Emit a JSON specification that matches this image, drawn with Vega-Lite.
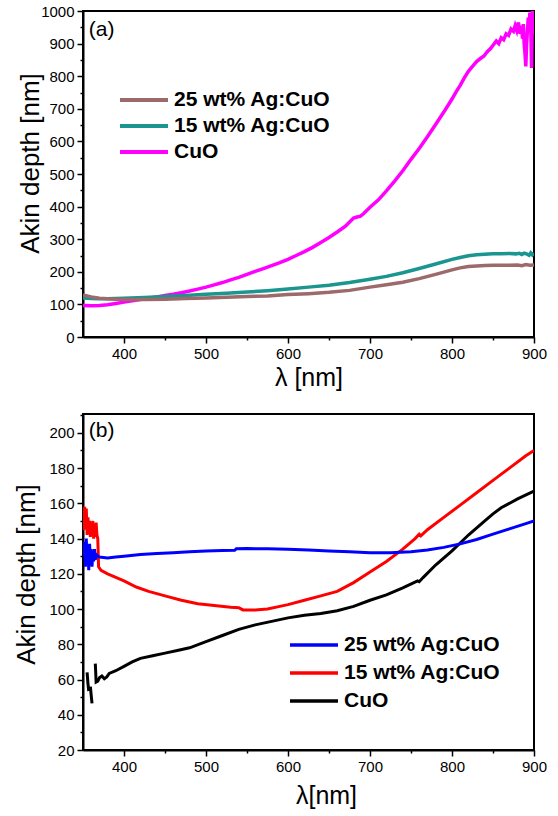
{
  "$schema": "https://vega.github.io/schema/vega-lite/v6.json",
  "background": "white",
  "padding": {"left": 12, "top": 3, "right": 10, "bottom": 5},
  "config": {
    "font": "Liberation Sans",
    "view": {"stroke": "black", "strokeWidth": 2},
    "axis": {
      "grid": false,
      "domainColor": "black",
      "domainWidth": 2,
      "tickColor": "black",
      "tickWidth": 1.5,
      "labelColor": "black",
      "labelFontSize": 15,
      "labelFont": "Liberation Sans",
      "labelFlush": false,
      "labelOverlap": false,
      "labelPadding": 3,
      "titleFont": "Liberation Sans",
      "titleFontWeight": "normal",
      "titleFontSize": 25,
      "titleColor": "black"
    },
    "legend": {
      "title": null,
      "orient": "none",
      "symbolType": "stroke",
      "symbolSize": 2304,
      "clipHeight": 20,
      "labelFont": "Liberation Sans",
      "labelFontSize": 21,
      "labelFontWeight": "bold",
      "labelColor": "black",
      "labelOffset": 4,
      "labelLimit": 0,
      "padding": 0
    }
  },
  "datasets": {
    "a": [
      {"s": "\u00a0CuO", "x": 350, "y": 97}, {"s": "\u00a0CuO", "x": 360, "y": 96}, {"s": "\u00a0CuO", "x": 370, "y": 97}, {"s": "\u00a0CuO", "x": 380, "y": 99},
      {"s": "\u00a0CuO", "x": 390, "y": 103}, {"s": "\u00a0CuO", "x": 400, "y": 107}, {"s": "\u00a0CuO", "x": 410, "y": 111}, {"s": "\u00a0CuO", "x": 420, "y": 115},
      {"s": "\u00a0CuO", "x": 430, "y": 119}, {"s": "\u00a0CuO", "x": 440, "y": 123}, {"s": "\u00a0CuO", "x": 450, "y": 127}, {"s": "\u00a0CuO", "x": 460, "y": 131},
      {"s": "\u00a0CuO", "x": 470, "y": 136}, {"s": "\u00a0CuO", "x": 480, "y": 141}, {"s": "\u00a0CuO", "x": 490, "y": 147}, {"s": "\u00a0CuO", "x": 500, "y": 153},
      {"s": "\u00a0CuO", "x": 510, "y": 160}, {"s": "\u00a0CuO", "x": 520, "y": 167}, {"s": "\u00a0CuO", "x": 530, "y": 175}, {"s": "\u00a0CuO", "x": 540, "y": 183},
      {"s": "\u00a0CuO", "x": 550, "y": 192}, {"s": "\u00a0CuO", "x": 560, "y": 201}, {"s": "\u00a0CuO", "x": 570, "y": 210}, {"s": "\u00a0CuO", "x": 580, "y": 219},
      {"s": "\u00a0CuO", "x": 590, "y": 228}, {"s": "\u00a0CuO", "x": 600, "y": 238}, {"s": "\u00a0CuO", "x": 610, "y": 250}, {"s": "\u00a0CuO", "x": 620, "y": 262},
      {"s": "\u00a0CuO", "x": 630, "y": 275}, {"s": "\u00a0CuO", "x": 640, "y": 290}, {"s": "\u00a0CuO", "x": 650, "y": 305}, {"s": "\u00a0CuO", "x": 660, "y": 322},
      {"s": "\u00a0CuO", "x": 670, "y": 340}, {"s": "\u00a0CuO", "x": 676, "y": 355}, {"s": "\u00a0CuO", "x": 680, "y": 365}, {"s": "\u00a0CuO", "x": 684, "y": 368},
      {"s": "\u00a0CuO", "x": 688, "y": 370}, {"s": "\u00a0CuO", "x": 692, "y": 378}, {"s": "\u00a0CuO", "x": 700, "y": 398}, {"s": "\u00a0CuO", "x": 710, "y": 420},
      {"s": "\u00a0CuO", "x": 720, "y": 448}, {"s": "\u00a0CuO", "x": 730, "y": 478}, {"s": "\u00a0CuO", "x": 740, "y": 510}, {"s": "\u00a0CuO", "x": 750, "y": 545},
      {"s": "\u00a0CuO", "x": 760, "y": 578}, {"s": "\u00a0CuO", "x": 770, "y": 614}, {"s": "\u00a0CuO", "x": 780, "y": 652}, {"s": "\u00a0CuO", "x": 790, "y": 690},
      {"s": "\u00a0CuO", "x": 800, "y": 730}, {"s": "\u00a0CuO", "x": 805, "y": 752}, {"s": "\u00a0CuO", "x": 810, "y": 772}, {"s": "\u00a0CuO", "x": 815, "y": 795},
      {"s": "\u00a0CuO", "x": 820, "y": 815}, {"s": "\u00a0CuO", "x": 825, "y": 830}, {"s": "\u00a0CuO", "x": 830, "y": 845}, {"s": "\u00a0CuO", "x": 835, "y": 855},
      {"s": "\u00a0CuO", "x": 839, "y": 862}, {"s": "\u00a0CuO", "x": 843, "y": 875}, {"s": "\u00a0CuO", "x": 847, "y": 885}, {"s": "\u00a0CuO", "x": 851, "y": 898},
      {"s": "\u00a0CuO", "x": 854, "y": 908}, {"s": "\u00a0CuO", "x": 857, "y": 900}, {"s": "\u00a0CuO", "x": 860, "y": 918}, {"s": "\u00a0CuO", "x": 863, "y": 912},
      {"s": "\u00a0CuO", "x": 866, "y": 930}, {"s": "\u00a0CuO", "x": 869, "y": 925}, {"s": "\u00a0CuO", "x": 872, "y": 945}, {"s": "\u00a0CuO", "x": 875, "y": 938},
      {"s": "\u00a0CuO", "x": 877, "y": 955}, {"s": "\u00a0CuO", "x": 879, "y": 940}, {"s": "\u00a0CuO", "x": 881, "y": 965}, {"s": "\u00a0CuO", "x": 883, "y": 930},
      {"s": "\u00a0CuO", "x": 885, "y": 955}, {"s": "\u00a0CuO", "x": 886, "y": 915}, {"s": "\u00a0CuO", "x": 887, "y": 960}, {"s": "\u00a0CuO", "x": 888, "y": 900},
      {"s": "\u00a0CuO", "x": 889, "y": 870}, {"s": "\u00a0CuO", "x": 890, "y": 830}, {"s": "\u00a0CuO", "x": 891, "y": 900}, {"s": "\u00a0CuO", "x": 892, "y": 940},
      {"s": "\u00a0CuO", "x": 893, "y": 980}, {"s": "\u00a0CuO", "x": 894, "y": 955}, {"s": "\u00a0CuO", "x": 895, "y": 995}, {"s": "\u00a0CuO", "x": 896, "y": 960},
      {"s": "\u00a0CuO", "x": 897, "y": 825}, {"s": "\u00a0CuO", "x": 898, "y": 1000}, {"s": "\u00a0CuO", "x": 899, "y": 930}, {"s": "\u00a0CuO", "x": 900, "y": 990},

      {"s": "15 wt% Ag:CuO", "x": 350, "y": 120}, {"s": "15 wt% Ag:CuO", "x": 360, "y": 118}, {"s": "15 wt% Ag:CuO", "x": 370, "y": 117},
      {"s": "15 wt% Ag:CuO", "x": 380, "y": 117}, {"s": "15 wt% Ag:CuO", "x": 390, "y": 118}, {"s": "15 wt% Ag:CuO", "x": 400, "y": 119},
      {"s": "15 wt% Ag:CuO", "x": 425, "y": 121}, {"s": "15 wt% Ag:CuO", "x": 450, "y": 124}, {"s": "15 wt% Ag:CuO", "x": 475, "y": 127},
      {"s": "15 wt% Ag:CuO", "x": 500, "y": 131}, {"s": "15 wt% Ag:CuO", "x": 525, "y": 134}, {"s": "15 wt% Ag:CuO", "x": 550, "y": 138},
      {"s": "15 wt% Ag:CuO", "x": 575, "y": 142}, {"s": "15 wt% Ag:CuO", "x": 600, "y": 147}, {"s": "15 wt% Ag:CuO", "x": 625, "y": 153},
      {"s": "15 wt% Ag:CuO", "x": 650, "y": 159}, {"s": "15 wt% Ag:CuO", "x": 675, "y": 167}, {"s": "15 wt% Ag:CuO", "x": 700, "y": 177},
      {"s": "15 wt% Ag:CuO", "x": 720, "y": 186}, {"s": "15 wt% Ag:CuO", "x": 740, "y": 197}, {"s": "15 wt% Ag:CuO", "x": 760, "y": 210},
      {"s": "15 wt% Ag:CuO", "x": 780, "y": 224}, {"s": "15 wt% Ag:CuO", "x": 800, "y": 238}, {"s": "15 wt% Ag:CuO", "x": 810, "y": 244},
      {"s": "15 wt% Ag:CuO", "x": 820, "y": 249}, {"s": "15 wt% Ag:CuO", "x": 830, "y": 252}, {"s": "15 wt% Ag:CuO", "x": 840, "y": 254},
      {"s": "15 wt% Ag:CuO", "x": 850, "y": 255}, {"s": "15 wt% Ag:CuO", "x": 860, "y": 255}, {"s": "15 wt% Ag:CuO", "x": 870, "y": 256},
      {"s": "15 wt% Ag:CuO", "x": 878, "y": 255}, {"s": "15 wt% Ag:CuO", "x": 882, "y": 257}, {"s": "15 wt% Ag:CuO", "x": 885, "y": 253},
      {"s": "15 wt% Ag:CuO", "x": 888, "y": 257}, {"s": "15 wt% Ag:CuO", "x": 891, "y": 255}, {"s": "15 wt% Ag:CuO", "x": 894, "y": 251},
      {"s": "15 wt% Ag:CuO", "x": 896, "y": 258}, {"s": "15 wt% Ag:CuO", "x": 898, "y": 252}, {"s": "15 wt% Ag:CuO", "x": 900, "y": 257},

      {"s": "25 wt% Ag:CuO", "x": 350, "y": 129}, {"s": "25 wt% Ag:CuO", "x": 360, "y": 123}, {"s": "25 wt% Ag:CuO", "x": 370, "y": 119},
      {"s": "25 wt% Ag:CuO", "x": 380, "y": 117}, {"s": "25 wt% Ag:CuO", "x": 390, "y": 116}, {"s": "25 wt% Ag:CuO", "x": 400, "y": 115},
      {"s": "25 wt% Ag:CuO", "x": 425, "y": 115}, {"s": "25 wt% Ag:CuO", "x": 450, "y": 116}, {"s": "25 wt% Ag:CuO", "x": 475, "y": 118},
      {"s": "25 wt% Ag:CuO", "x": 500, "y": 120}, {"s": "25 wt% Ag:CuO", "x": 525, "y": 122}, {"s": "25 wt% Ag:CuO", "x": 550, "y": 124},
      {"s": "25 wt% Ag:CuO", "x": 575, "y": 126}, {"s": "25 wt% Ag:CuO", "x": 600, "y": 130}, {"s": "25 wt% Ag:CuO", "x": 625, "y": 133},
      {"s": "25 wt% Ag:CuO", "x": 650, "y": 137}, {"s": "25 wt% Ag:CuO", "x": 675, "y": 143}, {"s": "25 wt% Ag:CuO", "x": 700, "y": 153},
      {"s": "25 wt% Ag:CuO", "x": 720, "y": 160}, {"s": "25 wt% Ag:CuO", "x": 740, "y": 168}, {"s": "25 wt% Ag:CuO", "x": 760, "y": 179},
      {"s": "25 wt% Ag:CuO", "x": 780, "y": 192}, {"s": "25 wt% Ag:CuO", "x": 800, "y": 206}, {"s": "25 wt% Ag:CuO", "x": 810, "y": 212},
      {"s": "25 wt% Ag:CuO", "x": 820, "y": 216}, {"s": "25 wt% Ag:CuO", "x": 830, "y": 218}, {"s": "25 wt% Ag:CuO", "x": 840, "y": 219},
      {"s": "25 wt% Ag:CuO", "x": 850, "y": 220}, {"s": "25 wt% Ag:CuO", "x": 860, "y": 220}, {"s": "25 wt% Ag:CuO", "x": 870, "y": 220},
      {"s": "25 wt% Ag:CuO", "x": 880, "y": 221}, {"s": "25 wt% Ag:CuO", "x": 885, "y": 219}, {"s": "25 wt% Ag:CuO", "x": 890, "y": 222},
      {"s": "25 wt% Ag:CuO", "x": 895, "y": 220}, {"s": "25 wt% Ag:CuO", "x": 900, "y": 221}
    ],
    "b": [
      {"s": "\u00a0CuO", "g": 1, "x": 355, "y": 64}, {"s": "\u00a0CuO", "g": 1, "x": 356, "y": 58}, {"s": "\u00a0CuO", "g": 1, "x": 357, "y": 53.5},
      {"s": "\u00a0CuO", "g": 2, "x": 359, "y": 56}, {"s": "\u00a0CuO", "g": 2, "x": 360, "y": 51}, {"s": "\u00a0CuO", "g": 2, "x": 361, "y": 46.5},
      {"s": "\u00a0CuO", "g": 3, "x": 365, "y": 69}, {"s": "\u00a0CuO", "g": 3, "x": 365.5, "y": 64}, {"s": "\u00a0CuO", "g": 3, "x": 366, "y": 58.5},
      {"s": "\u00a0CuO", "g": 3, "x": 368, "y": 59}, {"s": "\u00a0CuO", "g": 3, "x": 370, "y": 61}, {"s": "\u00a0CuO", "g": 3, "x": 373, "y": 62},
      {"s": "\u00a0CuO", "g": 3, "x": 376, "y": 60.5}, {"s": "\u00a0CuO", "g": 3, "x": 379, "y": 61.5}, {"s": "\u00a0CuO", "g": 3, "x": 382, "y": 63.5},
      {"s": "\u00a0CuO", "g": 3, "x": 390, "y": 65}, {"s": "\u00a0CuO", "g": 3, "x": 400, "y": 67.5}, {"s": "\u00a0CuO", "g": 3, "x": 410, "y": 70},
      {"s": "\u00a0CuO", "g": 3, "x": 420, "y": 72}, {"s": "\u00a0CuO", "g": 3, "x": 435, "y": 73.5}, {"s": "\u00a0CuO", "g": 3, "x": 450, "y": 75},
      {"s": "\u00a0CuO", "g": 3, "x": 465, "y": 76.5}, {"s": "\u00a0CuO", "g": 3, "x": 480, "y": 78}, {"s": "\u00a0CuO", "g": 3, "x": 500, "y": 81.5},
      {"s": "\u00a0CuO", "g": 3, "x": 520, "y": 85}, {"s": "\u00a0CuO", "g": 3, "x": 540, "y": 88.5}, {"s": "\u00a0CuO", "g": 3, "x": 560, "y": 91},
      {"s": "\u00a0CuO", "g": 3, "x": 580, "y": 93}, {"s": "\u00a0CuO", "g": 3, "x": 600, "y": 95}, {"s": "\u00a0CuO", "g": 3, "x": 620, "y": 96.5},
      {"s": "\u00a0CuO", "g": 3, "x": 640, "y": 97.5}, {"s": "\u00a0CuO", "g": 3, "x": 660, "y": 99}, {"s": "\u00a0CuO", "g": 3, "x": 680, "y": 101.5},
      {"s": "\u00a0CuO", "g": 3, "x": 700, "y": 105}, {"s": "\u00a0CuO", "g": 3, "x": 720, "y": 108}, {"s": "\u00a0CuO", "g": 3, "x": 740, "y": 112},
      {"s": "\u00a0CuO", "g": 3, "x": 758, "y": 116}, {"s": "\u00a0CuO", "g": 3, "x": 760, "y": 115.5}, {"s": "\u00a0CuO", "g": 3, "x": 765, "y": 118},
      {"s": "\u00a0CuO", "g": 3, "x": 780, "y": 125}, {"s": "\u00a0CuO", "g": 3, "x": 800, "y": 133}, {"s": "\u00a0CuO", "g": 3, "x": 810, "y": 137.5},
      {"s": "\u00a0CuO", "g": 3, "x": 820, "y": 142}, {"s": "\u00a0CuO", "g": 3, "x": 840, "y": 150}, {"s": "\u00a0CuO", "g": 3, "x": 850, "y": 154},
      {"s": "\u00a0CuO", "g": 3, "x": 860, "y": 157.5}, {"s": "\u00a0CuO", "g": 3, "x": 880, "y": 162.5}, {"s": "\u00a0CuO", "g": 3, "x": 900, "y": 167},

      {"s": "15 wt% Ag:CuO", "g": 0, "x": 350, "y": 146}, {"s": "15 wt% Ag:CuO", "g": 0, "x": 351, "y": 145}, {"s": "15 wt% Ag:CuO", "g": 0, "x": 352, "y": 158},
      {"s": "15 wt% Ag:CuO", "g": 0, "x": 353, "y": 150}, {"s": "15 wt% Ag:CuO", "g": 0, "x": 354, "y": 157}, {"s": "15 wt% Ag:CuO", "g": 0, "x": 355, "y": 142},
      {"s": "15 wt% Ag:CuO", "g": 0, "x": 356, "y": 152}, {"s": "15 wt% Ag:CuO", "g": 0, "x": 357, "y": 146}, {"s": "15 wt% Ag:CuO", "g": 0, "x": 358, "y": 150},
      {"s": "15 wt% Ag:CuO", "g": 0, "x": 359, "y": 141}, {"s": "15 wt% Ag:CuO", "g": 0, "x": 360, "y": 149}, {"s": "15 wt% Ag:CuO", "g": 0, "x": 361, "y": 143},
      {"s": "15 wt% Ag:CuO", "g": 0, "x": 362, "y": 150}, {"s": "15 wt% Ag:CuO", "g": 0, "x": 363, "y": 140}, {"s": "15 wt% Ag:CuO", "g": 0, "x": 364, "y": 148},
      {"s": "15 wt% Ag:CuO", "g": 0, "x": 365, "y": 141}, {"s": "15 wt% Ag:CuO", "g": 0, "x": 366, "y": 149}, {"s": "15 wt% Ag:CuO", "g": 0, "x": 367, "y": 142},
      {"s": "15 wt% Ag:CuO", "g": 0, "x": 368, "y": 140}, {"s": "15 wt% Ag:CuO", "g": 0, "x": 369, "y": 124}, {"s": "15 wt% Ag:CuO", "g": 0, "x": 372, "y": 122},
      {"s": "15 wt% Ag:CuO", "g": 0, "x": 380, "y": 120}, {"s": "15 wt% Ag:CuO", "g": 0, "x": 390, "y": 118}, {"s": "15 wt% Ag:CuO", "g": 0, "x": 400, "y": 116},
      {"s": "15 wt% Ag:CuO", "g": 0, "x": 415, "y": 112.5}, {"s": "15 wt% Ag:CuO", "g": 0, "x": 430, "y": 110}, {"s": "15 wt% Ag:CuO", "g": 0, "x": 450, "y": 107.5},
      {"s": "15 wt% Ag:CuO", "g": 0, "x": 470, "y": 105}, {"s": "15 wt% Ag:CuO", "g": 0, "x": 490, "y": 103}, {"s": "15 wt% Ag:CuO", "g": 0, "x": 510, "y": 102},
      {"s": "15 wt% Ag:CuO", "g": 0, "x": 530, "y": 101}, {"s": "15 wt% Ag:CuO", "g": 0, "x": 540, "y": 100.8}, {"s": "15 wt% Ag:CuO", "g": 0, "x": 545, "y": 99.5},
      {"s": "15 wt% Ag:CuO", "g": 0, "x": 560, "y": 99.5}, {"s": "15 wt% Ag:CuO", "g": 0, "x": 575, "y": 100}, {"s": "15 wt% Ag:CuO", "g": 0, "x": 590, "y": 101.5},
      {"s": "15 wt% Ag:CuO", "g": 0, "x": 600, "y": 102.5}, {"s": "15 wt% Ag:CuO", "g": 0, "x": 620, "y": 105}, {"s": "15 wt% Ag:CuO", "g": 0, "x": 640, "y": 107.5},
      {"s": "15 wt% Ag:CuO", "g": 0, "x": 660, "y": 110}, {"s": "15 wt% Ag:CuO", "g": 0, "x": 680, "y": 115}, {"s": "15 wt% Ag:CuO", "g": 0, "x": 700, "y": 121},
      {"s": "15 wt% Ag:CuO", "g": 0, "x": 720, "y": 127}, {"s": "15 wt% Ag:CuO", "g": 0, "x": 740, "y": 134}, {"s": "15 wt% Ag:CuO", "g": 0, "x": 755, "y": 140},
      {"s": "15 wt% Ag:CuO", "g": 0, "x": 760, "y": 142.5}, {"s": "15 wt% Ag:CuO", "g": 0, "x": 762, "y": 141.5}, {"s": "15 wt% Ag:CuO", "g": 0, "x": 770, "y": 145},
      {"s": "15 wt% Ag:CuO", "g": 0, "x": 790, "y": 152}, {"s": "15 wt% Ag:CuO", "g": 0, "x": 810, "y": 159}, {"s": "15 wt% Ag:CuO", "g": 0, "x": 830, "y": 166},
      {"s": "15 wt% Ag:CuO", "g": 0, "x": 850, "y": 173}, {"s": "15 wt% Ag:CuO", "g": 0, "x": 870, "y": 180}, {"s": "15 wt% Ag:CuO", "g": 0, "x": 890, "y": 187},
      {"s": "15 wt% Ag:CuO", "g": 0, "x": 900, "y": 190},

      {"s": "25 wt% Ag:CuO", "g": 0, "x": 350, "y": 133}, {"s": "25 wt% Ag:CuO", "g": 0, "x": 351, "y": 130}, {"s": "25 wt% Ag:CuO", "g": 0, "x": 352, "y": 138},
      {"s": "25 wt% Ag:CuO", "g": 0, "x": 353, "y": 124}, {"s": "25 wt% Ag:CuO", "g": 0, "x": 354, "y": 140}, {"s": "25 wt% Ag:CuO", "g": 0, "x": 355, "y": 126},
      {"s": "25 wt% Ag:CuO", "g": 0, "x": 356, "y": 135}, {"s": "25 wt% Ag:CuO", "g": 0, "x": 357, "y": 122}, {"s": "25 wt% Ag:CuO", "g": 0, "x": 358, "y": 137},
      {"s": "25 wt% Ag:CuO", "g": 0, "x": 359, "y": 128}, {"s": "25 wt% Ag:CuO", "g": 0, "x": 360, "y": 134}, {"s": "25 wt% Ag:CuO", "g": 0, "x": 361, "y": 124},
      {"s": "25 wt% Ag:CuO", "g": 0, "x": 362, "y": 133}, {"s": "25 wt% Ag:CuO", "g": 0, "x": 363, "y": 127}, {"s": "25 wt% Ag:CuO", "g": 0, "x": 364, "y": 134},
      {"s": "25 wt% Ag:CuO", "g": 0, "x": 365, "y": 128}, {"s": "25 wt% Ag:CuO", "g": 0, "x": 366, "y": 131}, {"s": "25 wt% Ag:CuO", "g": 0, "x": 368, "y": 130},
      {"s": "25 wt% Ag:CuO", "g": 0, "x": 370, "y": 129.5}, {"s": "25 wt% Ag:CuO", "g": 0, "x": 380, "y": 129}, {"s": "25 wt% Ag:CuO", "g": 0, "x": 390, "y": 129.5},
      {"s": "25 wt% Ag:CuO", "g": 0, "x": 400, "y": 130}, {"s": "25 wt% Ag:CuO", "g": 0, "x": 420, "y": 131}, {"s": "25 wt% Ag:CuO", "g": 0, "x": 440, "y": 131.5},
      {"s": "25 wt% Ag:CuO", "g": 0, "x": 460, "y": 132}, {"s": "25 wt% Ag:CuO", "g": 0, "x": 480, "y": 132.5}, {"s": "25 wt% Ag:CuO", "g": 0, "x": 500, "y": 133},
      {"s": "25 wt% Ag:CuO", "g": 0, "x": 520, "y": 133.2}, {"s": "25 wt% Ag:CuO", "g": 0, "x": 535, "y": 133.3}, {"s": "25 wt% Ag:CuO", "g": 0, "x": 537, "y": 134.2},
      {"s": "25 wt% Ag:CuO", "g": 0, "x": 550, "y": 134.3}, {"s": "25 wt% Ag:CuO", "g": 0, "x": 575, "y": 134.2}, {"s": "25 wt% Ag:CuO", "g": 0, "x": 600, "y": 134},
      {"s": "25 wt% Ag:CuO", "g": 0, "x": 625, "y": 133.5}, {"s": "25 wt% Ag:CuO", "g": 0, "x": 650, "y": 133}, {"s": "25 wt% Ag:CuO", "g": 0, "x": 675, "y": 132.5},
      {"s": "25 wt% Ag:CuO", "g": 0, "x": 700, "y": 132}, {"s": "25 wt% Ag:CuO", "g": 0, "x": 725, "y": 132}, {"s": "25 wt% Ag:CuO", "g": 0, "x": 750, "y": 132.5},
      {"s": "25 wt% Ag:CuO", "g": 0, "x": 770, "y": 133.5}, {"s": "25 wt% Ag:CuO", "g": 0, "x": 790, "y": 135}, {"s": "25 wt% Ag:CuO", "g": 0, "x": 810, "y": 137},
      {"s": "25 wt% Ag:CuO", "g": 0, "x": 830, "y": 139.5}, {"s": "25 wt% Ag:CuO", "g": 0, "x": 850, "y": 142.5}, {"s": "25 wt% Ag:CuO", "g": 0, "x": 870, "y": 145.5},
      {"s": "25 wt% Ag:CuO", "g": 0, "x": 890, "y": 148.5}, {"s": "25 wt% Ag:CuO", "g": 0, "x": 900, "y": 150}
    ]
  },
  "vconcat": [
    {
      "width": 451,
      "height": 326,
      "encoding": {
        "x": {
          "field": "x", "type": "quantitative",
          "scale": {"domain": [350, 900], "nice": false, "zero": false},
          "axis": {
            "title": "λ [nm]",
            "values": [400, 450, 500, 550, 600, 650, 700, 750, 800, 850, 900],
            "labelExpr": "datum.value % 100 === 0 ? '' + datum.value : ''",
            "labelOverlap": false,
            "tickSize": {"condition": {"test": "datum.value % 100 === 0", "value": 6}, "value": 3},
            "titleBaseline": "middle",
            "titleY": 40
          }
        },
        "y": {
          "field": "y", "type": "quantitative",
          "scale": {"domain": [0, 1000], "nice": false},
          "axis": {
            "title": "Akin depth [nm]",
            "values": [0, 50, 100, 150, 200, 250, 300, 350, 400, 450, 500, 550, 600, 650, 700, 750, 800, 850, 900, 950, 1000],
            "labelExpr": "datum.value % 100 === 0 ? '' + datum.value : ''",
            "labelOverlap": false,
            "tickSize": {"condition": {"test": "datum.value % 100 === 0", "value": 6}, "value": 3},
            "titleBaseline": "alphabetic",
            "titleFontSize": 26,
            "titleX": -45,
            "titleY": 152
          }
        }
      },
      "layer": [
        {
          "data": {"name": "a"},
          "mark": {"type": "line", "strokeWidth": 3.5, "clip": true},
          "encoding": {
            "color": {
              "field": "s", "type": "nominal",
              "scale": {"domain": ["25 wt% Ag:CuO", "15 wt% Ag:CuO", "\u00a0CuO"], "range": ["#9c6a6a", "#1a958f", "#ff00ff"]},
              "legend": {
                "legendX": 35, "legendY": 79,
                "symbolStrokeWidth": 4,
                "rowPadding": 5
              }
            }
          }
        },
        {
          "data": {"values": [{"t": "(a)", "x": 357, "y": 943}]},
          "mark": {"type": "text", "align": "left", "baseline": "middle", "fontSize": 21, "color": "black"},
          "encoding": {
            "text": {"field": "t"}
          }
        }
      ]
    },
    {
      "width": 451,
      "height": 336,
      "encoding": {
        "x": {
          "field": "x", "type": "quantitative",
          "scale": {"domain": [350, 900], "nice": false, "zero": false},
          "axis": {
            "title": "λ[nm]",
            "values": [400, 450, 500, 550, 600, 650, 700, 750, 800, 850, 900],
            "labelExpr": "datum.value % 100 === 0 ? '' + datum.value : ''",
            "labelOverlap": false,
            "tickSize": {"condition": {"test": "datum.value % 100 === 0", "value": 6}, "value": 3},
            "titleBaseline": "middle",
            "titleX": 243,
            "titleY": 45
          }
        },
        "y": {
          "field": "y", "type": "quantitative",
          "scale": {"domain": [20, 210.7], "nice": false, "zero": false},
          "axis": {
            "title": "Akin depth [nm]",
            "values": [20, 30, 40, 50, 60, 70, 80, 90, 100, 110, 120, 130, 140, 150, 160, 170, 180, 190, 200, 210],
            "labelExpr": "datum.value % 20 === 0 ? '' + datum.value : ''",
            "labelOverlap": false,
            "tickSize": {"condition": {"test": "datum.value % 20 === 0", "value": 6}, "value": 3},
            "titleBaseline": "alphabetic",
            "titleFontSize": 26,
            "titleX": -49,
            "titleY": 160
          }
        }
      },
      "layer": [
        {
          "data": {"name": "b"},
          "mark": {"type": "line", "strokeWidth": 3, "clip": true},
          "encoding": {
            "detail": {"field": "g", "type": "nominal"},
            "color": {
              "field": "s", "type": "nominal",
              "scale": {"domain": ["25 wt% Ag:CuO", "15 wt% Ag:CuO", "\u00a0CuO"], "range": ["#0000ff", "#ff0000", "#000000"]},
              "legend": {
                "legendX": 205, "legendY": 221,
                "symbolStrokeWidth": 3.5,
                "rowPadding": 7
              }
            }
          }
        },
        {
          "data": {"values": [{"t": "(b)", "x": 357, "y": 200.8}]},
          "mark": {"type": "text", "align": "left", "baseline": "middle", "fontSize": 21, "color": "black"},
          "encoding": {
            "text": {"field": "t"}
          }
        }
      ]
    }
  ],
  "spacing": 77,
  "bounds": "flush",
  "resolve": {"scale": {"color": "independent", "x": "independent", "y": "independent"}}
}
